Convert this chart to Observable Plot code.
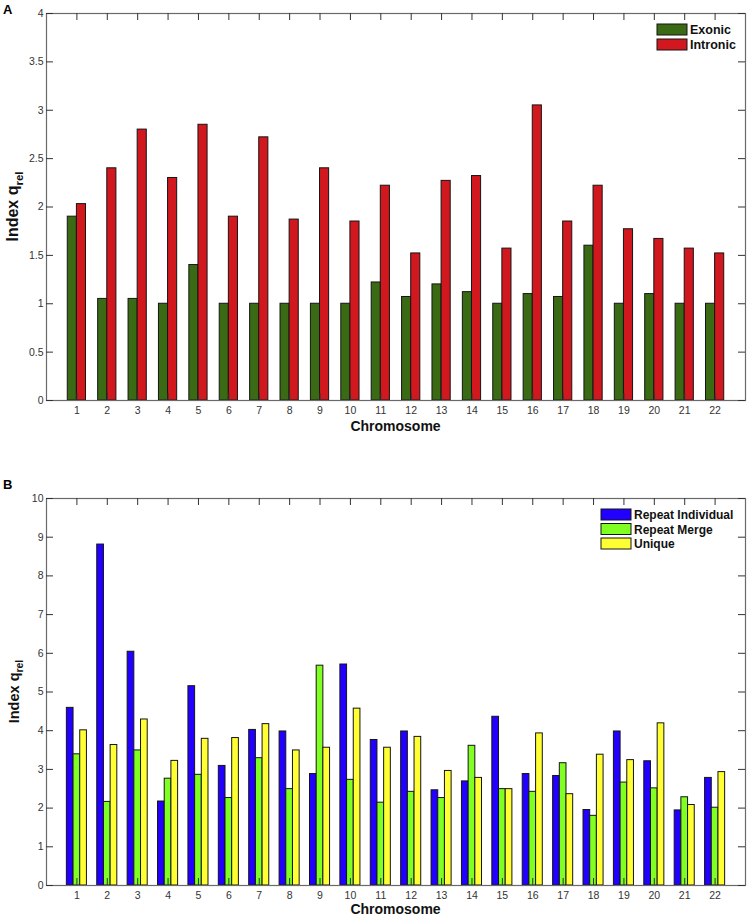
<!DOCTYPE html>
<html><head><meta charset="utf-8">
<script src="https://cdn.jsdelivr.net/npm/d3@7"></script>
<script src="https://cdn.jsdelivr.net/npm/@observablehq/plot@0.6"></script>
<style>
body{margin:0;background:#fff;font-family:"Liberation Sans",Arial,Helvetica,sans-serif}
svg{display:block}
</style>
</head><body><div id="chart"></div>
<script>
const chromosomes = [1,2,3,4,5,6,7,8,9,10,11,12,13,14,15,16,17,18,19,20,21,22];
const exonic   = [1.90,1.05,1.05,1.00,1.40,1.00,1.00,1.00,1.00,1.00,1.22,1.07,1.20,1.12,1.00,1.10,1.07,1.60,1.00,1.10,1.00,1.00];
const intronic = [2.03,2.40,2.80,2.30,2.85,1.90,2.72,1.87,2.40,1.85,2.22,1.52,2.27,2.32,1.57,3.05,1.85,2.22,1.77,1.67,1.57,1.52];
const repeatIndividual = [4.59,8.81,6.04,2.17,5.15,3.09,4.02,3.98,2.88,5.71,3.76,3.98,2.46,2.69,4.36,2.88,2.83,1.95,3.98,3.21,1.94,2.78];
const repeatMerge      = [3.39,2.16,3.49,2.76,2.86,2.26,3.29,2.49,5.68,2.73,2.14,2.42,2.26,3.61,2.49,2.42,3.16,1.80,2.66,2.51,2.28,2.01];
const unique           = [4.01,3.63,4.29,3.22,3.79,3.81,4.17,3.49,3.56,4.57,3.56,3.84,2.96,2.78,2.49,3.93,2.36,3.38,3.24,4.19,2.08,2.93];
const yTicksA = [0,0.5,1,1.5,2,2.5,3,3.5,4];
const yTicksB = [0,1,2,3,4,5,6,7,8,9,10];
const xTicks = chromosomes;
const xLabel = "Chromosome";
const yLabelMain = "Index q";
const yLabelSub = "rel";

const W = 747, ML = 46, MR = 2;
const innerW = W - ML - MR;
const FONT = "'Liberation Sans', Arial, sans-serif";

function panel({letter, letterY, series, yMax, yTicks, height, marginTop, marginBottom, xLabelY, yLabelSize, yLabelX, legendX, legendY, legendStep, legendFont}) {
  const innerH = height - marginTop - marginBottom;
  const marks = [];
  for (const s of series) {
    const rows = chromosomes.map((c, i) => ({chr: c, value: s.values[i], x1: c + s.o0, x2: c + s.o1}));
    marks.push(Plot.rect(rows, {x1: "x1", x2: "x2", y1: 0, y2: "value", fill: s.color, stroke: "#151515", strokeWidth: 1}));
  }
  marks.push(
    Plot.frame({stroke: "#6a6a6a", strokeWidth: 1.2}),
    Plot.ruleX(xTicks, {x: d => d, y1: yMax, y2: 0, insetTop: innerH - 7, stroke: "#333"}),
    Plot.ruleX(xTicks, {x: d => d, y1: yMax, y2: 0, insetBottom: innerH - 7, stroke: "#333"}),
    Plot.ruleY(yTicks, {y: d => d, x1: 0, x2: 23, insetRight: innerW - 7, stroke: "#333"}),
    Plot.ruleY(yTicks, {y: d => d, x1: 0, x2: 23, insetLeft: innerW - 7, stroke: "#333"}),
    Plot.axisY({ticks: yTicks, tickSize: 0, tickPadding: 3, label: null, tickFormat: d => String(d), fill: "#333"}),
    Plot.axisX({ticks: xTicks, tickSize: 0, tickPadding: 6, label: null, tickFormat: d => String(d), fill: "#333"})
  );
  const svg = Plot.plot({
    width: W, height, marginLeft: ML, marginRight: MR, marginTop, marginBottom,
    style: {fontFamily: FONT, fontSize: "10.5px", background: "#fff", color: "#333"},
    x: {type: "linear", domain: [0, 23]},
    y: {type: "linear", domain: [0, yMax]},
    marks
  });
  const s = d3.select(svg);
  const cy = marginTop + innerH / 2;
  const yl = s.append("text")
    .attr("transform", `translate(${yLabelX},${cy}) rotate(-90)`)
    .attr("text-anchor", "middle")
    .attr("font-size", yLabelSize).attr("font-weight", "bold").attr("fill", "#111")
    .attr("font-family", FONT);
  yl.append("tspan").text(yLabelMain);
  yl.append("tspan").attr("font-size", yLabelSize * 0.72).attr("dy", yLabelSize * 0.3).text(yLabelSub);
  s.append("text")
    .attr("x", ML + innerW / 2).attr("y", xLabelY)
    .attr("text-anchor", "middle")
    .attr("font-size", 14).attr("font-weight", "bold").attr("fill", "#111")
    .attr("font-family", FONT)
    .text(xLabel);
  s.append("text")
    .attr("x", 3).attr("y", letterY)
    .attr("text-anchor", "start")
    .attr("font-size", 13).attr("font-weight", "bold").attr("fill", "#000")
    .attr("font-family", FONT)
    .text(letter);
  series.forEach((d, i) => {
    const y = legendY + i * legendStep;
    s.append("rect").attr("x", legendX).attr("y", y).attr("width", 30).attr("height", 11)
      .attr("fill", d.color).attr("stroke", "#151515").attr("stroke-width", 1);
    s.append("text").attr("x", legendX + 33).attr("y", y + 10)
      .attr("text-anchor", "start")
      .attr("font-size", legendFont).attr("font-weight", "bold").attr("fill", "#111")
      .attr("font-family", FONT)
      .text(d.name);
  });
  return svg;
}

const root = document.getElementById("chart");
root.append(panel({
  letter: "A", letterY: 14,
  series: [
    {name: "Exonic", values: exonic, color: "#3a6b14", o0: -0.3, o1: 0},
    {name: "Intronic", values: intronic, color: "#d0181e", o0: 0, o1: 0.3}
  ],
  yMax: 4, yTicks: yTicksA, height: 440, marginTop: 13, marginBottom: 40, xLabelY: 431,
  yLabelSize: 16, yLabelX: 18,
  legendX: 657, legendY: 24, legendStep: 15, legendFont: 12.5
}));
root.append(panel({
  letter: "B", letterY: 49,
  series: [
    {name: "Repeat Individual", values: repeatIndividual, color: "#2200ff", o0: -0.33, o1: -0.11},
    {name: "Repeat Merge", values: repeatMerge, color: "#80ff22", o0: -0.11, o1: 0.11},
    {name: "Unique", values: unique, color: "#ffff33", o0: 0.11, o1: 0.33}
  ],
  yMax: 10, yTicks: yTicksB, height: 477, marginTop: 58, marginBottom: 32, xLabelY: 474,
  yLabelSize: 14.5, yLabelX: 19,
  legendX: 601, legendY: 69, legendStep: 14.5, legendFont: 12
}));
</script>
</body></html>
